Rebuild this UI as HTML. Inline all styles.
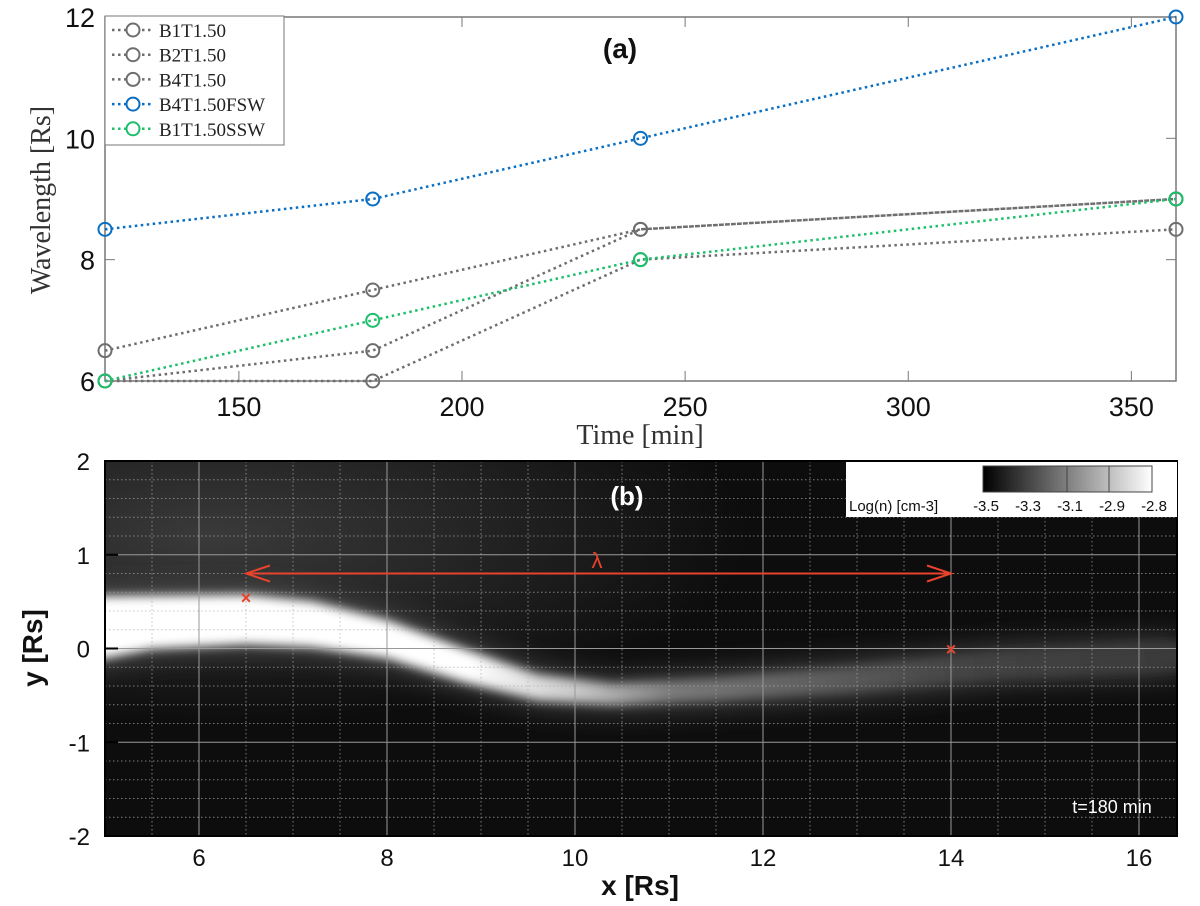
<!DOCTYPE html>
<html><head><meta charset="utf-8">
<style>
body{margin:0;background:#fff;width:1200px;height:906px;overflow:hidden}
svg{display:block}
.t{font-family:"Liberation Sans",sans-serif;font-size:24px;fill:#111}
.s{font-family:"Liberation Serif",serif}
</style></head><body>
<svg id="fig" width="1200" height="906" viewBox="0 0 1200 906" xmlns="http://www.w3.org/2000/svg">
<defs>
<filter id="bl" x="-20%" y="-50%" width="140%" height="200%"><feGaussianBlur stdDeviation="5"/></filter>
<filter id="bl2" x="-20%" y="-100%" width="140%" height="300%"><feGaussianBlur stdDeviation="16"/></filter>
<radialGradient id="tl" cx="0.1" cy="0.2" r="0.5"><stop offset="0" stop-color="#3a3a3a"/><stop offset="1" stop-color="#0d0d0d"/></radialGradient>
<linearGradient id="cb" x1="0" x2="1"><stop offset="0" stop-color="#000"/><stop offset="1" stop-color="#fff"/></linearGradient>
<linearGradient id="bandG" gradientUnits="userSpaceOnUse" x1="105" x2="1177" y1="0" y2="0">
<stop offset="0" stop-color="#fff"/><stop offset="0.34" stop-color="#fff"/><stop offset="0.44" stop-color="#c8c8c8"/><stop offset="0.53" stop-color="#7a7a7a"/><stop offset="0.8" stop-color="#444"/><stop offset="1" stop-color="#3a3a3a"/></linearGradient>
<clipPath id="cp"><rect x="105" y="461" width="1072" height="375"/></clipPath>
</defs>
<g id="topPanel"></g>
<g id="botPanel"></g>
</svg>
<script>
const times=[120,180,240,360];
const seriesNames=["B1T1.50","B2T1.50","B4T1.50","B4T1.50FSW","B1T1.50SSW"];
const sB1=[6.5,7.5,8.5,9];
const sB2=[6,6.5,8.5,9];
const sB4=[6,6,8,8.5];
const sFSW=[8.5,9,10,12];
const sSSW=[6,7,8,9];
const colors=["#6e6e6e","#6e6e6e","#6e6e6e","#0a6fc2","#1dbf6b"];
const xTicksTop=[150,200,250,300,350];
const yTicksTop=[6,8,10,12];
const xTicksBot=[6,8,10,12,14,16];
const yTicksBot=[2,1,0,-1,-2];
const cbLabels=["-3.5","-3.3","-3.1","-2.9","-2.8"];

const NS="http://www.w3.org/2000/svg";
function mk(p,tag,at,txt){const e=document.createElementNS(NS,tag);for(const k in at)e.setAttribute(k,at[k]);if(txt!==undefined)e.textContent=txt;p.appendChild(e);return e;}
const X=t=>105+(t-120)*4.4625, Y=v=>381-(v-6)*60.67;
const topG=document.getElementById('topPanel');
let r=mk(topG,'rect',{x:105,y:17,width:1071,height:364,fill:'#fff',stroke:'#777','stroke-width':1.5});


xTicksTop.forEach(t=>{mk(topG,'line',{x1:X(t),x2:X(t),y1:381,y2:371,stroke:'#777'});mk(topG,'line',{x1:X(t),x2:X(t),y1:17,y2:27,stroke:'#777'});
 const l=mk(topG,'text',{x:X(t),y:416,'text-anchor':'middle',class:'t',style:'font-size:27px'},t);
 });
yTicksTop.forEach(v=>{mk(topG,'line',{x1:105,x2:115,y1:Y(v),y2:Y(v),stroke:'#777'});mk(topG,'line',{x1:1166,x2:1176,y1:Y(v),y2:Y(v),stroke:'#777'});
 const l=mk(topG,'text',{x:95,y:Y(v)+10,'text-anchor':'end',class:'t',style:'font-size:27px'},v);
 });
let t1=mk(topG,'text',{x:50,y:200,transform:'rotate(-90 50 200)','text-anchor':'middle',class:'s',style:'font-size:28px;fill:#333'},'Wavelength [Rs]');

let t2=mk(topG,'text',{x:640,y:444,'text-anchor':'middle',class:'s',style:'font-size:28px;fill:#333'},'Time [min]');

let t3=mk(topG,'text',{x:620,y:58,'text-anchor':'middle',class:'t',style:'font-size:28px;font-weight:bold'},'(a)');

const allS=[sB1,sB2,sB4,sFSW,sSSW];
allS.forEach((s,i)=>{
 const g=mk(topG,'g',{});
 
 
 mk(g,'polyline',{points:s.map((v,j)=>X(times[j])+','+Y(v)).join(' '),fill:'none',stroke:colors[i],'stroke-width':2.5,'stroke-dasharray':'2.5 3.5'});
 s.forEach((v,j)=>{const c=mk(g,'circle',{cx:X(times[j]),cy:Y(v),r:6.5,fill:'none',stroke:colors[i],'stroke-width':2});
  });
});
const lg=mk(topG,'g',{});

mk(lg,'rect',{x:105,y:16,width:179,height:129,fill:'#fff',stroke:'#777','stroke-width':1});
seriesNames.forEach((n,i)=>{const y=30+i*24.7;
 const e=mk(lg,'g',{});
 mk(e,'line',{x1:112,x2:154,y1:y,y2:y,stroke:colors[i],'stroke-width':2.5,'stroke-dasharray':'2.5 3.5'});
 mk(e,'circle',{cx:133,cy:y,r:6.5,fill:'#fff',stroke:colors[i],'stroke-width':2});
 mk(e,'text',{x:159,y:y+7,class:'s',style:'font-size:19px;fill:#222'},n);});

// bottom panel
const bx=v=>105+(v-5)*94, by=v=>648.5-v*93.75;
const botG=document.getElementById('botPanel');
const pa=mk(botG,'g',{'clip-path':'url(#cp)'});

mk(pa,'rect',{x:105,y:461,width:1072,height:375,fill:'url(#tl)'});
const up=[[4.5,0.55],[6.5,0.57],[7.2,0.5],[8,0.3],[8.8,0.0],[9.6,-0.28],[10.4,-0.38],[11.5,-0.32],[13,-0.2],[14.5,-0.05],[16.5,0.05]];
const lo=[[16.5,-0.2],[14.5,-0.3],[13,-0.45],[11.5,-0.55],[10.4,-0.6],[9.6,-0.55],[8.8,-0.35],[8,-0.1],[7.2,0.02],[6.5,0.05],[5.5,0.0],[4.5,-0.2]];
const d='M'+up.concat(lo).map(p=>bx(p[0])+','+by(p[1])).join(' L')+'Z';
mk(pa,'path',{d:d,fill:'#666',filter:'url(#bl2)'});
mk(pa,'path',{d:d,fill:'url(#bandG)',filter:'url(#bl)'});
for(let v=5.5;v<16.5;v+=0.5){if(Math.abs(v%2)<1e-9)continue;mk(pa,'line',{x1:bx(v),x2:bx(v),y1:461,y2:836,stroke:'#aaa','stroke-width':1,'stroke-dasharray':'1.5 2.5',opacity:0.7});}
for(let v=-1.8;v<2;v+=0.2){if(Math.abs(v-Math.round(v))<1e-6)continue;mk(pa,'line',{x1:105,x2:1177,y1:by(v),y2:by(v),stroke:'#aaa','stroke-width':1,'stroke-dasharray':'1.5 2.5',opacity:0.7});}
xTicksBot.forEach(v=>mk(pa,'line',{x1:bx(v),x2:bx(v),y1:461,y2:836,stroke:'#999','stroke-width':1}));
yTicksBot.forEach(v=>mk(pa,'line',{x1:105,x2:1177,y1:by(v),y2:by(v),stroke:'#999','stroke-width':1}));
mk(botG,'rect',{x:105,y:461,width:1072,height:375,fill:'none',stroke:'#000','stroke-width':2});
xTicksBot.forEach(v=>{const l=mk(botG,'text',{x:bx(v),y:866,'text-anchor':'middle',class:'t',style:'font-size:24px'},v);});
yTicksBot.forEach(v=>{mk(botG,'line',{x1:105,x2:118,y1:by(v),y2:by(v),stroke:'#000','stroke-width':2});const l=mk(botG,'text',{x:90,y:by(v)+9,'text-anchor':'end',class:'t',style:'font-size:24px'},v);});
let t4=mk(botG,'text',{x:640,y:895,'text-anchor':'middle',class:'t',style:'font-size:28px;font-weight:bold'},'x [Rs]');
let t5=mk(botG,'text',{x:42,y:648,transform:'rotate(-90 42 648)','text-anchor':'middle',class:'t',style:'font-size:28px;font-weight:bold'},'y [Rs]');
let t6=mk(botG,'text',{x:627,y:505,'text-anchor':'middle',class:'t',style:'font-size:26px;font-weight:bold;fill:#fff'},'(b)');
let t7=mk(botG,'text',{x:1112,y:813,'text-anchor':'middle',class:'t',style:'font-size:18px;fill:#fff'},'t=180 min');
const ar=mk(botG,'g',{});
const ay=by(0.8);
mk(ar,'line',{x1:bx(6.5),x2:bx(14),y1:ay,y2:ay,stroke:'#e8432c','stroke-width':2});
mk(ar,'path',{d:`M${bx(6.5)+24},${ay-8} L${bx(6.5)},${ay} L${bx(6.5)+24},${ay+8} M${bx(14)-24},${ay-8} L${bx(14)},${ay} L${bx(14)-24},${ay+8}`,fill:'none',stroke:'#e8432c','stroke-width':2});
mk(ar,'text',{x:597,y:568,'text-anchor':'middle',class:'t',style:'font-size:22px;fill:#e8432c'},'λ');
[[6.5,0.55],[14,0]].forEach(p=>{const m=mk(botG,'text',{x:bx(p[0]),y:by(p[1])+7,'text-anchor':'middle',class:'t',style:'font-size:18px;font-weight:bold;fill:#e8432c'},'×');});
const cbg=mk(botG,'g',{});
mk(cbg,'rect',{x:846,y:462,width:331,height:55,fill:'#fff'});
mk(cbg,'rect',{x:983,y:466,width:169,height:26,fill:'url(#cb)',stroke:'#444','stroke-width':1});
[1026,1067,1109].forEach(x=>mk(cbg,'line',{x1:x,x2:x,y1:466,y2:492,stroke:'#444'}));
mk(cbg,'text',{x:849,y:511,class:'t',style:'font-size:15px'},'Log(n) [cm-3]');
cbLabels.forEach((l,i)=>mk(cbg,'text',{x:986+i*42,y:511,'text-anchor':'middle',class:'t',style:'font-size:15px'},l));
</script>
</body></html>
